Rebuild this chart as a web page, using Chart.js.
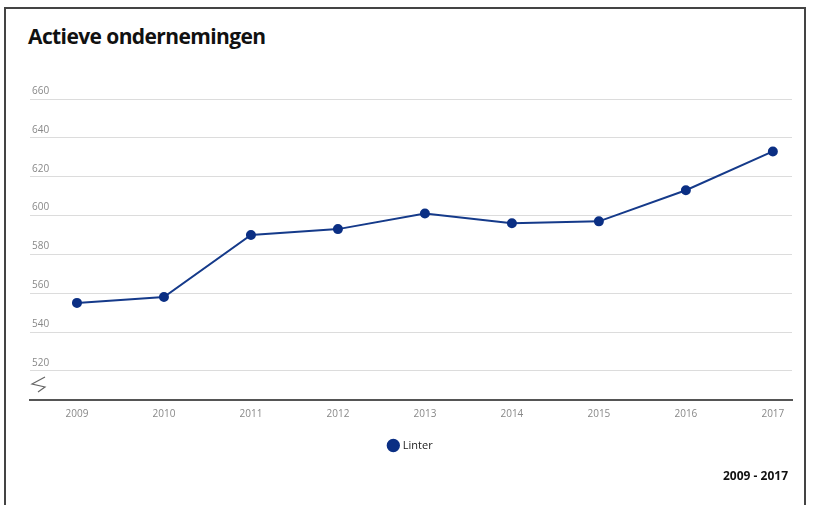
<!DOCTYPE html>
<html>
<head>
<meta charset="utf-8">
<script src="https://cdn.jsdelivr.net/npm/chart.js@4/dist/chart.umd.min.js"></script>
<style>
  html, body { margin: 0; padding: 0; background: #fff; }
  #wrap { position: relative; width: 823px; height: 505px; overflow: hidden; }
  #frame { position: absolute; left: 4px; top: 7px; width: 802px; height: 520px; border: 2px solid #444; border-bottom: none; box-sizing: border-box; }
  #title { position: absolute; left: 28px; top: 22px; font: bold 21px "Open Sans", sans-serif; color: #111; margin: 0; letter-spacing: -0.6px; }
  #period { position: absolute; right: 35px; top: 467px; font: bold 12px "Open Sans", sans-serif; color: #111; }
  canvas { position: absolute; left: 0; top: 0; }
</style>
</head>
<body>
<div id="wrap">
  <div id="frame"></div>
  <h1 id="title">Actieve ondernemingen</h1>
  <canvas id="chart" width="823" height="505"></canvas>
  <div id="period">2009 - 2017</div>
</div>
<script>
// — gegevens —
const jaren = [2009, 2010, 2011, 2012, 2013, 2014, 2015, 2016, 2017];
const linter = [555, 558, 590, 593, 601, 596, 597, 613, 633];
const yTicks = [520, 540, 560, 580, 600, 620, 640, 660];

// — as-onderbreking (zigzag) links onderaan —
const breukTeken = {
  id: 'breukTeken',
  afterDraw(chart) {
    const c = chart.ctx;
    const a = chart.chartArea;
    c.save();
    c.strokeStyle = '#666';
    c.lineWidth = 1.2;
    c.beginPath();
    c.moveTo(a.left + 15, a.bottom - 23);
    c.lineTo(a.left + 2, a.bottom - 16);
    c.lineTo(a.left + 15, a.bottom - 13);
    c.lineTo(a.left + 8, a.bottom - 8);
    c.stroke();
    c.restore();
  }
};

const ctx = document.getElementById('chart').getContext('2d');
new Chart(ctx, {
  type: 'line',
  data: {
    datasets: [{
      label: 'Linter',
      data: jaren.map((j, i) => ({ x: j, y: linter[i] })),
      borderColor: '#153a8a',
      backgroundColor: '#0b2f84',
      borderWidth: 2,
      pointRadius: 4,
      pointHoverRadius: 4,
      pointBackgroundColor: '#0b2f84',
      pointBorderColor: '#0b2f84',
      tension: 0
    }]
  },
  options: {
    responsive: false,
    animation: false,
    layout: { padding: { left: 30, right: 31, top: 99, bottom: 44 } },
    plugins: {
      legend: {
        position: 'bottom',
        labels: {
          usePointStyle: true,
          pointStyle: 'circle',
          boxWidth: 8,
          boxHeight: 8,
          padding: 12,
          color: '#222',
          font: { family: 'Open Sans', size: 11 }
        }
      },
      tooltip: { enabled: false },
      title: { display: false }
    },
    scales: {
      x: {
        type: 'linear',
        min: 2008.46,
        max: 2017.22,
        afterBuildTicks: axis => { axis.ticks = jaren.map(v => ({ value: v })); },
        grid: { display: false, drawTicks: false },
        border: { display: true, color: '#555', width: 2 },
        ticks: {
          padding: 8,
          color: '#888',
          font: { family: 'Open Sans', size: 10 },
          callback: v => String(v)
        }
      },
      y: {
        min: 505,
        max: 660,
        afterBuildTicks: axis => { axis.ticks = yTicks.map(v => ({ value: v })); },
        afterFit: axis => { axis.width = 0; },
        grid: { color: '#dcdcdc', lineWidth: 1, drawTicks: false },
        border: { display: false },
        ticks: {
          mirror: true,
          padding: 2,
          labelOffset: -8,
          color: '#888',
          font: { family: 'Open Sans', size: 10 }
        }
      }
    }
  },
  plugins: [breukTeken]
});
</script>
</body>
</html>
